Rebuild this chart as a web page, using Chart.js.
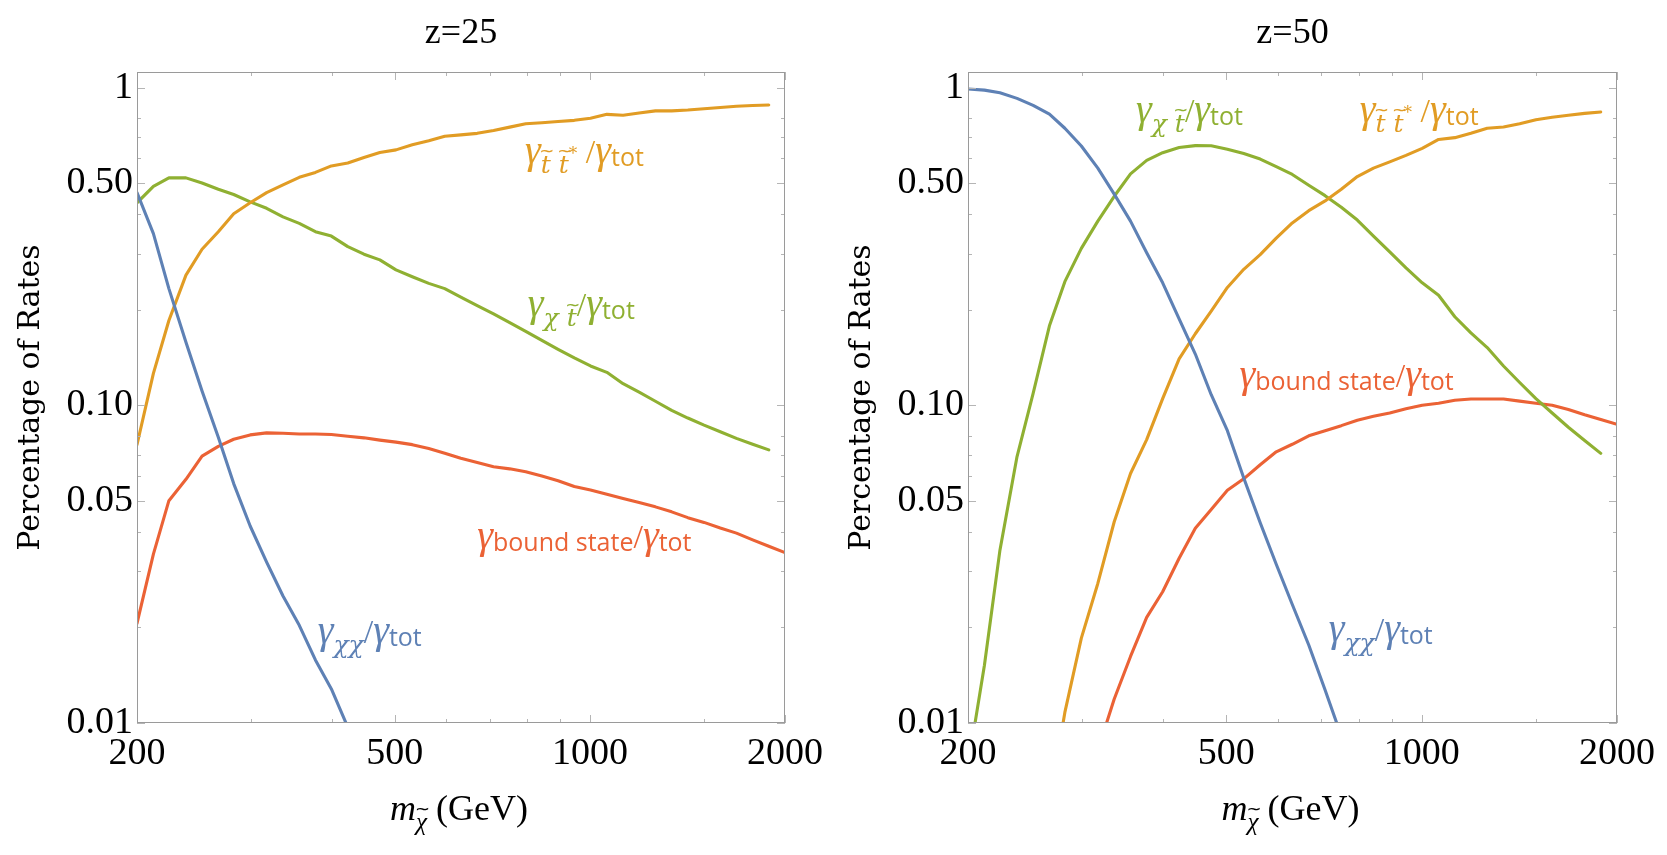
<!DOCTYPE html>
<html>
<head>
<meta charset="utf-8">
<script src="https://cdn.jsdelivr.net/npm/chart.js@4.4.1/dist/chart.umd.min.js"></script>
<style>
  body { margin: 0; background: #fff; }
  #wrap { position: relative; width: 1667px; height: 855px; }
  canvas { position: absolute; top: 0; }
</style>
</head>
<body>
<div id="wrap">
  <canvas id="c25" width="834" height="855" style="left:0"></canvas>
  <canvas id="c50" width="833" height="855" style="left:834px"></canvas>
</div>
<script>
// neutralino mass grid (GeV), log spaced
const massGeV = [200, 212, 224, 238, 252, 267, 282, 299, 317, 336, 356, 377, 399, 423, 448, 474,
  502, 532, 564, 597, 632, 670, 710, 752, 796, 843, 893, 946, 1002, 1062, 1125, 1191, 1262,
  1337, 1416, 1500, 1589, 1683, 1783, 1888, 2000];

// z = 25
const chiChi25 = [0.467, 0.347, 0.233, 0.158, 0.111, 0.0794, 0.0567, 0.0417, 0.0321, 0.0251, 0.0203,
  0.0158, 0.0128, 0.0097];
const stopPair25 = [0.0752, 0.126, 0.185, 0.257, 0.310, 0.352, 0.401, 0.434, 0.467, 0.494, 0.522, 0.541,
  0.567, 0.579, 0.603, 0.625, 0.637, 0.661, 0.681, 0.703, 0.710, 0.718, 0.733, 0.751, 0.770, 0.775,
  0.782, 0.789, 0.801, 0.824, 0.819, 0.832, 0.845, 0.845, 0.850, 0.858, 0.866, 0.874, 0.879, 0.882, null];
const chiStop25 = [0.434, 0.489, 0.520, 0.520, 0.501, 0.479, 0.461, 0.437, 0.417, 0.392, 0.374, 0.352,
  0.341, 0.316, 0.299, 0.287, 0.267, 0.254, 0.242, 0.233, 0.219, 0.206, 0.194, 0.182, 0.171, 0.160,
  0.150, 0.141, 0.133, 0.127, 0.117, 0.110, 0.103, 0.0964, 0.0912, 0.0866, 0.0826, 0.0787, 0.0754, 0.0724, null];
const bound25 = [0.0206, 0.034, 0.0501, 0.0585, 0.0692, 0.0743, 0.0782, 0.0807, 0.0819, 0.0817, 0.0812,
  0.0812, 0.0809, 0.0799, 0.0790, 0.0777, 0.0766, 0.0752, 0.0731, 0.0707, 0.0681, 0.0661, 0.0641, 0.0631,
  0.0618, 0.0599, 0.0579, 0.0555, 0.0541, 0.0525, 0.0509, 0.0494, 0.0479, 0.0462, 0.0443, 0.0428, 0.0411,
  0.0396, 0.0377, 0.0360, 0.0344];

// z = 50
const chiChi50 = [0.99, 0.982, 0.963, 0.925, 0.879, 0.825, 0.745, 0.655, 0.558, 0.462, 0.380, 0.302,
  0.243, 0.187, 0.145, 0.108, 0.0832, 0.059, 0.0427, 0.0316, 0.0236, 0.0176, 0.0127, 0.0091];
const stopPair50 = [null, null, null, null, null, 0.0055, 0.0108, 0.0185, 0.0275, 0.043, 0.061, 0.078,
  0.105, 0.140, 0.168, 0.198, 0.235, 0.268, 0.298, 0.336, 0.375, 0.410, 0.440, 0.479, 0.525, 0.558,
  0.584, 0.612, 0.644, 0.687, 0.696, 0.718, 0.745, 0.752, 0.770, 0.792, 0.807, 0.819, 0.830, 0.838, null];
const chiStop50 = [0.0073, 0.0152, 0.035, 0.069, 0.109, 0.178, 0.245, 0.312, 0.38, 0.455, 0.535, 0.59,
  0.624, 0.648, 0.657, 0.656, 0.64, 0.62, 0.596, 0.564, 0.533, 0.493, 0.457, 0.42, 0.383, 0.341, 0.304,
  0.271, 0.243, 0.222, 0.19, 0.169, 0.152, 0.133, 0.118, 0.105, 0.0946, 0.0853, 0.0775, 0.0706, null];
const bound50 = [null, null, null, null, null, null, null, null, 0.0082, 0.0119, 0.0162, 0.0215, 0.0259,
  0.033, 0.041, 0.047, 0.054, 0.0587, 0.065, 0.0714, 0.0754, 0.0802, 0.0832, 0.0863, 0.0898, 0.0924,
  0.0946, 0.0976, 0.100, 0.1015, 0.1037, 0.1047, 0.1047, 0.1047, 0.1031, 0.1015, 0.100, 0.097, 0.0934,
  0.0903, 0.0871];

// axis ticks
const yTicks = [0.01, 0.05, 0.1, 0.5, 1];
const yTickLabels = ['0.01', '0.05', '0.10', '0.50', '1'];
const yMinor = [0.02, 0.03, 0.04, 0.06, 0.07, 0.08, 0.2, 0.3, 0.4, 0.6, 0.7, 0.8];
const xTicks = [200, 500, 1000, 2000];
const xMinor = [300, 400, 600, 700, 800, 900, 1500];

const BLUE = '#5E81B5', ORANGE = '#E19C24', GREEN = '#8FB032', RED = '#EB6235';

// rich text pieces for the curve labels: [text, style, accent]
const richFonts = {
  g:   { font: 'italic 40px "Liberation Serif"', dy: 0 },
  m:   { font: 'italic 25px "DejaVu Serif"', dy: 10 },
  st:  { font: '17px "DejaVu Serif"', dy: -4 },
  s:   { font: '25px "Open Sans"', dy: 3 },
  sl:  { font: '34px "Liberation Serif"', dy: 0 },
  ax:  { font: 'italic 36px "Liberation Serif"', dy: 0 },
  axs: { font: 'italic 25px "Liberation Serif"', dy: 10 },
  axr: { font: '36px "Liberation Serif"', dy: 0 }
};
const labelChiChi = [['γ', 'g'], ['χχ', 'm'], ['/', 'sl'], ['γ', 'g'], ['tot', 's']];
const labelStopPair = [['γ', 'g'], ['t', 'm', '~'], [' ', 'm'], ['t', 'm', '~'], ['*', 'st'], [' /', 'sl'], ['γ', 'g'], ['tot', 's']];
const labelChiStop = [['γ', 'g'], ['χ ', 'm'], ['t', 'm', '~'], ['/', 'sl'], ['γ', 'g'], ['tot', 's']];
const labelBound = [['γ', 'g'], ['bound state', 's'], ['/', 'sl'], ['γ', 'g'], ['tot', 's']];
const xTitleParts = [['m', 'ax'], ['χ', 'axs', '~'], [' (GeV)', 'axr']];

function drawRich(ctx, parts, x, y, align) {
  let w = 0;
  parts.forEach(([t, k]) => { ctx.font = richFonts[k].font; w += ctx.measureText(t).width; });
  let cx = align === 'center' ? x - w / 2 : x;
  parts.forEach(([t, k, acc]) => {
    const f = richFonts[k];
    ctx.font = f.font;
    const tw = ctx.measureText(t).width;
    ctx.fillText(t, cx, y + f.dy);
    if (acc) {
      const size = parseFloat(f.font.match(/(\d+)px/)[1]);
      ctx.save();
      ctx.font = Math.round(size * 0.7) + 'px "DejaVu Sans"';
      ctx.textAlign = 'center';
      ctx.fillText(acc, cx + tw * 0.6, y + f.dy - size * 0.62);
      ctx.restore();
    }
    cx += tw;
  });
}

const curveLabels = {
  id: 'curveLabels',
  afterDatasetsDraw(chart, args, opts) {
    const {ctx, scales: {x, y}, chartArea: a} = chart;
    ctx.save();
    ctx.textBaseline = 'alphabetic';
    ctx.textAlign = 'left';
    (opts.items || []).forEach(it => {
      ctx.fillStyle = it.color;
      drawRich(ctx, it.parts, x.getPixelForValue(it.mass), y.getPixelForValue(it.rate), 'left');
    });
    ctx.fillStyle = '#000';
    drawRich(ctx, xTitleParts, (a.left + a.right) / 2 - 2, chart.height - 35, 'center');
    ctx.restore();
  }
};

const frameTicks = {
  id: 'frameTicks',
  afterDatasetsDraw(chart) {
    const {ctx, chartArea: a, scales: {x, y}} = chart;
    ctx.save();
    ctx.lineWidth = 1;
    ctx.strokeStyle = '#b5b5b5';
    ctx.beginPath();
    const hTick = (v, len) => {
      const p = Math.round(y.getPixelForValue(v)) + 0.5;
      ctx.moveTo(a.left, p); ctx.lineTo(a.left + len, p);
      ctx.moveTo(a.right, p); ctx.lineTo(a.right - len, p);
    };
    const vTick = (v, len) => {
      const p = Math.round(x.getPixelForValue(v)) + 0.5;
      ctx.moveTo(p, a.bottom); ctx.lineTo(p, a.bottom - len);
      ctx.moveTo(p, a.top); ctx.lineTo(p, a.top + len);
    };
    yTicks.forEach(v => hTick(v, 8));
    yMinor.forEach(v => hTick(v, 4));
    xTicks.forEach(v => vTick(v, 8));
    xMinor.forEach(v => vTick(v, 4));
    ctx.stroke();
    ctx.strokeStyle = '#9a9a9a';
    ctx.strokeRect(a.left + 0.5, a.top + 0.5, a.right - a.left - 1, a.bottom - a.top - 1);
    ctx.restore();
  }
};

function points(vals) {
  return massGeV.map((m, i) => ({x: m, y: vals[i]})).filter(p => p.y != null && p.y !== undefined);
}

function line(vals, color) {
  return {
    data: points(vals), borderColor: color, backgroundColor: color,
    borderWidth: 3.1, pointRadius: 0, tension: 0, fill: false,
    borderJoinStyle: 'round', borderCapStyle: 'round'
  };
}

function makeChart(id, title, series, yAxisWidth, yTitlePad, rightPad, labels) {
  return new Chart(document.getElementById(id), {
    type: 'line',
    data: {datasets: series},
    options: {
      responsive: false,
      animation: false,
      devicePixelRatio: 1,
      events: [],
      layout: {padding: {left: 0, right: rightPad, top: 0, bottom: 0}},
      plugins: {
        legend: {display: false},
        tooltip: {enabled: false},
        title: {
          display: true, text: title, fullSize: false, color: '#000',
          font: {family: 'Liberation Serif', size: 36, weight: 'normal', lineHeight: 1.2},
          padding: {top: 12, bottom: 16.8}
        },
        curveLabels: {items: labels}
      },
      scales: {
        x: {
          type: 'logarithmic', min: 200, max: 2000,
          grid: {display: false, drawTicks: false},
          border: {display: false},
          afterBuildTicks: s => { s.ticks = xTicks.map(v => ({value: v})); },
          afterFit: s => { s.height = 132; },
          ticks: {
            autoSkip: false, maxRotation: 0, padding: 8, color: '#000',
            font: {family: 'Liberation Serif', size: 38},
            callback: (v, i) => String(xTicks[i])
          }
        },
        y: {
          type: 'logarithmic', min: 0.01, max: 1.12,
          grid: {display: false, drawTicks: false},
          border: {display: false},
          afterBuildTicks: s => { s.ticks = yTicks.map(v => ({value: v})); },
          afterFit: s => { s.width = yAxisWidth; },
          ticks: {
            autoSkip: false, padding: 4, color: '#000',
            font: {family: 'Liberation Serif', size: 38},
            callback: (v, i) => yTickLabels[i]
          },
          title: {
            display: true, text: 'Percentage of Rates', color: '#000',
            font: {family: 'DejaVu Serif', size: 30, lineHeight: 1.2},
            padding: {top: yTitlePad - 2, bottom: 0}
          }
        }
      }
    },
    plugins: [frameTicks, curveLabels]
  });
}

makeChart('c25', 'z=25', [
  line(chiChi25, BLUE), line(stopPair25, ORANGE), line(chiStop25, GREEN), line(bound25, RED)
], 137, 15, 49, [
  {parts: labelStopPair, mass: 794, rate: 0.58, color: ORANGE},
  {parts: labelChiStop, mass: 802, rate: 0.191, color: GREEN},
  {parts: labelBound, mass: 670, rate: 0.0356, color: RED},
  {parts: labelChiChi, mass: 380, rate: 0.0179, color: BLUE}
]);

makeChart('c50', 'z=50', [
  line(chiChi50, BLUE), line(stopPair50, ORANGE), line(chiStop50, GREEN), line(bound50, RED)
], 134, 12, 50, [
  {parts: labelChiStop, mass: 363, rate: 0.78, color: GREEN},
  {parts: labelStopPair, mass: 803, rate: 0.78, color: ORANGE},
  {parts: labelBound, mass: 524, rate: 0.114, color: RED},
  {parts: labelChiChi, mass: 719, rate: 0.0181, color: BLUE}
]);
</script>
</body>
</html>
